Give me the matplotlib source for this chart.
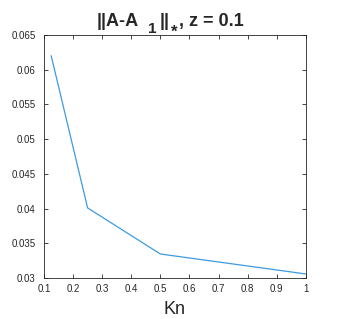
import matplotlib
matplotlib.use("Agg")
import matplotlib.pyplot as plt

# Data
kn = [0.125, 0.25, 0.5, 1.0]
err = [0.0620, 0.0401, 0.03346, 0.03058]
xticks = [0.1, 0.2, 0.3, 0.4, 0.5, 0.6, 0.7, 0.8, 0.9, 1.0]
xticklabels = ["0.1", "0.2", "0.3", "0.4", "0.5", "0.6", "0.7", "0.8", "0.9", "1"]
yticks = [0.03, 0.035, 0.04, 0.045, 0.05, 0.055, 0.06, 0.065]
yticklabels = ["0.03", "0.035", "0.04", "0.045", "0.05", "0.055", "0.06", "0.065"]

# title pieces: text, font size, drop below baseline (px), gap after (px)
title_parts = [("||A-A", 13, 0, 9), ("1", 11, 7, 3), ("||", 13, 0, 2),
               ("*", 12, 11, 1), (", z = 0.1", 13, 0, 0)]

plt.rcParams["font.family"] = ["Liberation Sans", "DejaVu Sans"]

W, H = 338, 319
fig = plt.figure(figsize=(W / 100, H / 100), dpi=100)
ax = fig.add_axes([0.130, 0.1285, 0.775, 0.7615])

ax.plot(kn, err, color="#3d9be0", lw=0.9)

ax.set_xlim(0.1, 1.0)
ax.set_ylim(0.03, 0.065)
ax.set_xticks(xticks)
ax.set_xticklabels(xticklabels)
ax.set_yticks(yticks)
ax.set_yticklabels(yticklabels)

ax.tick_params(direction="in", top=True, right=True, length=3, width=0.6,
               labelsize=7, colors="#262626")
ax.tick_params(axis="x", pad=4)
ax.tick_params(axis="y", pad=6)
for s in ax.spines.values():
    s.set_color("#262626")
    s.set_linewidth(0.6)

ax.set_xlabel("Kn", fontsize=13, color="#262626", labelpad=5)

# title built from pieces so the subscripts sit low like the original
fig.canvas.draw()
renderer = fig.canvas.get_renderer()
texts = [fig.text(0, 0, s, fontsize=size, fontweight="bold", color="#262626",
                  va="baseline", ha="left")
         for s, size, drop, gap in title_parts]
widths = [t.get_window_extent(renderer).width for t in texts]
total = sum(widths) + sum(p[3] for p in title_parts)
x = 170 - total / 2
base_y = H - 26
for t, w, (s, size, drop, gap) in zip(texts, widths, title_parts):
    t.set_position((x / W, (base_y - drop) / H))
    x += w + gap

plt.savefig("out.png", dpi=100)
plt.close()
